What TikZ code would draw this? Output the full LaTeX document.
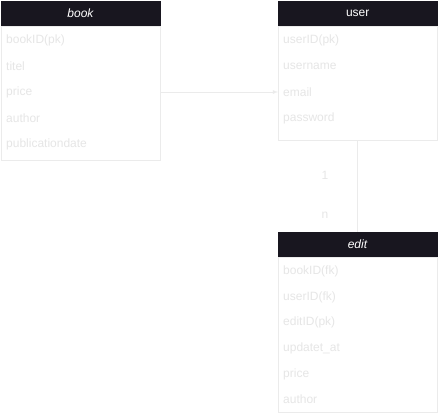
\documentclass[tikz,border=0pt]{standalone}
\usepackage{fontspec}
\setmainfont{Liberation Sans}
\usepackage{tikz}
\usetikzlibrary{arrows,positioning}

\definecolor{headfill}{HTML}{18161F}
\definecolor{paleline}{HTML}{EBEBEB}
\definecolor{paletext}{HTML}{E6E6E6}

\tikzset{
    head/.style={draw=headfill, fill=headfill, text=white, minimum width=159pt, minimum height=25pt, inner sep=0pt, anchor=north west},
    tbody/.style={draw=paleline, fill=white, minimum width=159pt, inner sep=0pt},
    row/.style={text=paletext, anchor=west, inner sep=0pt},
    link/.style={draw=paleline, line width=0.8pt},
    card/.style={text=paletext, inner sep=0pt}
}

\begin{document}
\begin{tikzpicture}[x=1pt, y=-1pt, font=\fontsize{12}{14}\selectfont]
    \useasboundingbox (0,0) rectangle (439,416);

    % table book
    \node[head] (bookhead) at (1,1) {\textit{book}};
    \node[tbody, below=0pt of bookhead, minimum height=134pt] (bookbody) {};
    \node[row] (book1) at (6,40) {bookID(pk)};
    \node[row] (book2) at (6,66) {titel};
    \node[row] (book3) at (6,92) {price};
    \node[row] (book4) at (6,118) {author};
    \node[row] (book5) at (6,144) {publicationdate};

    % table user
    \node[head] (userhead) at (278,1) {user};
    \node[tbody, below=0pt of userhead, minimum height=114pt] (userbody) {};
    \node[row] (user1) at (283,40) {userID(pk)};
    \node[row] (user2) at (283,66) {username};
    \node[row] (user3) at (283,92) {email};
    \node[row] (user4) at (283,118) {password};

    % table edit
    \node[head] (edithead) at (278,232) {\textit{edit}};
    \node[tbody, below=0pt of edithead, minimum height=155pt] (editbody) {};
    \node[row] (edit1) at (283,271) {bookID(fk)};
    \node[row] (edit2) at (283,297) {userID(fk)};
    \node[row] (edit3) at (283,322) {editID(pk)};
    \node[row] (edit4) at (283,348) {updatet\_at};
    \node[row] (edit5) at (283,374) {price};
    \node[row] (edit6) at (283,399) {author};

    % book -> user
    \draw[link, -latex] (bookbody.east |- book3) -- (userbody.west |- user3);

    % user 1 -- n edit
    \draw[link] (userbody.south) -- (edithead.north);
    \node[card] (one) at (325,175) {1};
    \node[card] (many) at (325,215) {n};
\end{tikzpicture}
\end{document}
